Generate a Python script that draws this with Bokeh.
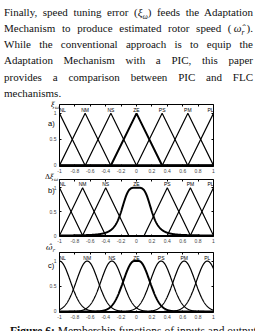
import numpy as np
from bokeh.plotting import figure
from bokeh.layouts import column
from bokeh.models import Range1d, FixedTicker, LinearAxis, Div
from bokeh.embed import file_html
from bokeh.resources import INLINE
from bokeh.core.properties import value

# ---------------- data ----------------
para_lines = [
    "Finally, speed tuning error (<i>ξ</i><sub><i>ω</i></sub>) feeds the Adaptation",
    "Mechanism to produce estimated rotor speed (&thinsp;<i>ω\u0302</i><sub><i>r</i></sub>&thinsp;).",
    "While the conventional approach is to equip the",
    "Adaptation Mechanism with a PIC, this paper",
    "provides a comparison between PIC and FLC",
    "mechanisms.",
]
caption_bold = "Figure 6:"
caption_rest = "Membership functions of inputs and output"

panel_letters = ["a)", "b)", "c)"]
panel_ylabels = ["<i>ξ</i><sub><i>ω</i></sub>", "Δ<i>ξ</i><sub><i>ω</i></sub>",
                 "<i>ω\u0302</i><sub><i>r</i></sub>"]

mf_names = ["NL", "NM", "NS", "ZE", "PS", "PM", "PL"]
x_ticks = [-1, -0.8, -0.6, -0.4, -0.2, 0, 0.2, 0.4, 0.6, 0.8, 1]
x_tick_labels = ["-1", "-0.8", "-0.6", "-0.4", "-0.2", "0", "0.2", "0.4", "0.6", "0.8", "1"]
y_ticks = [0, 0.5, 1]
y_tick_labels = ["0", "0.5", "1"]

# a) error: triangles
a_centers = [-1.0, -0.667, -0.333, 0.0, 0.333, 0.667, 1.0]
a_halfwidth = 0.333
# b) change of error: triangles + bell-shaped ZE
b_centers = [-1.0, -0.7, -0.4, 0.0, 0.4, 0.7, 1.0]
b_halfwidth = 0.3
b_ze_bell = [0.2, 2.0, 0.0]   # width, slope, centre
# c) output: gaussians
c_centers = [-1.0, -0.64, -0.32, 0.0, 0.32, 0.62, 0.92]
c_sigma = 0.14
c_ze_flat = 0.03

# ---------------- paragraph + panel annotations (HTML overlay) ----------------
line_html = []
for i, ln in enumerate(para_lines):
    if i == len(para_lines) - 1:
        line_html.append(f'<div style="text-align:left;height:16.3px;white-space:nowrap;">{ln}</div>')
    else:
        line_html.append(f'<div style="text-align:justify;text-align-last:justify;height:16.3px;">{ln}</div>')

# page positions of the panel letters / y-labels (layout only)
letter_pos = [(48, 118.5), (48, 185.5), (48, 260.5)]
ylab_pos = [(196, 101.0, 7), (197, 172.5, 7), (200, 243.5, 8)]
over = []
for t, (lx, ty) in zip(panel_letters, letter_pos):
    over.append(f'<span style="position:absolute;left:{lx}px;top:{ty}px;z-index:50;'
                f'font-family:\'Liberation Sans\';font-size:7.5px;line-height:9px;'
                f'white-space:nowrap;color:#000;">{t}</span>')
for t, (rx, ty, fs) in zip(panel_ylabels, ylab_pos):
    over.append(f'<span class="yl" style="position:absolute;right:{rx}px;top:{ty}px;z-index:50;'
                f'font-family:\'DejaVu Serif\';font-size:{fs}px;line-height:8px;'
                f'white-space:nowrap;color:#000;">{t}</span>')

para_html = (
    '<style>.pg sub{font-size:7.5px;vertical-align:-2.5px;line-height:0;}'
    '.yl sub{font-size:5px;vertical-align:-1.5px;line-height:0;}</style>'
    '<div style="position:relative;width:255px;height:100px;overflow:visible;">'
    '<div class="pg" style="position:absolute;left:4px;top:3.5px;width:249px;'
    'font-family:\'Liberation Serif\';font-size:11px;line-height:16.3px;color:#111;">'
    + "".join(line_html) + '</div>' + "".join(over) + '</div>')
para = Div(text=para_html, width=255, height=100, margin=(0, 0, 0, 0),
           styles={"overflow": "visible", "z-index": "10"})


# ---------------- membership plots ----------------
def tri_curve(c, h):
    l, r = c - h, c + h
    pts = sorted({-1.0, 1.0} | {v for v in (l, c, r) if -1.0 <= v <= 1.0})
    ys = [max(0.0, min((v - l) / (c - l), (r - v) / (r - c))) for v in pts]
    return pts, ys


XG = np.linspace(-1, 1, 801)


def style_axis(ax, show):
    ax.axis_line_color = None
    ax.major_tick_in = 2
    ax.major_tick_out = 0
    ax.minor_tick_in = 0
    ax.minor_tick_out = 0
    ax.major_tick_line_color = "black"
    ax.major_label_text_font = "Liberation Sans"
    if show:
        ax.major_label_text_font_size = "5px"
        ax.major_label_standoff = 2
    else:
        ax.major_label_text_font_size = "1px"
        ax.major_label_text_alpha = 0
        ax.major_label_standoff = 0


def make_plot(height, top, bottom, curves, centers):
    p = figure(width=255, height=height, x_range=Range1d(-1, 1), y_range=Range1d(-0.02, 1.17),
               output_backend="svg", toolbar_location=None, title=None,
               min_border_left=59, min_border_right=42, min_border_top=top,
               min_border_bottom=bottom, x_axis_type=None, y_axis_type=None)
    p.border_fill_color = None
    p.background_fill_color = "white"
    p.outline_line_color = "black"
    p.outline_line_width = 1
    p.outline_line_alpha = 1
    xt = FixedTicker(ticks=x_ticks)
    yt = FixedTicker(ticks=y_ticks)
    xb = LinearAxis(ticker=xt, major_label_overrides=dict(zip(x_ticks, x_tick_labels)))
    style_axis(xb, True)
    p.add_layout(xb, "below")
    yl = LinearAxis(ticker=yt, major_label_overrides=dict(zip(y_ticks, y_tick_labels)))
    style_axis(yl, True)
    yl.major_label_standoff = 3
    p.add_layout(yl, "left")
    xa = LinearAxis(ticker=xt)
    style_axis(xa, False)
    p.add_layout(xa, "above")
    yr = LinearAxis(ticker=yt)
    style_axis(yr, False)
    p.add_layout(yr, "right")

    for name, (xs, ys) in zip(mf_names, curves):
        p.line(xs, ys, line_color="black", line_width=2.0 if name == "ZE" else 1.2)

    for name, c in zip(mf_names, centers):
        if c <= -1 + 1e-9:
            al = "left"
        elif c >= 1 - 1e-9:
            al = "right"
        else:
            al = "center"
        p.text(x=[c], y=[1.07], text=[name], text_font=value("Liberation Sans"),
               text_font_size="5px", text_align=al, text_baseline="middle", text_color="black")
    return p


curves_a = [tri_curve(c, a_halfwidth) for c in a_centers]

curves_b = []
for n, c in zip(mf_names, b_centers):
    if n == "ZE":
        wb, sb, cb = b_ze_bell
        curves_b.append((XG, 1.0 / (1.0 + np.abs((XG - cb) / wb) ** (2 * sb))))
    else:
        curves_b.append(tri_curve(c, b_halfwidth))

curves_c = []
for n, c in zip(mf_names, c_centers):
    if n == "ZE":
        d = np.maximum(np.abs(XG - c) - c_ze_flat, 0)
    else:
        d = XG - c
    curves_c.append((XG, np.exp(-d ** 2 / (2 * c_sigma ** 2))))

pa = make_plot(75, 4, 9, curves_a, a_centers)
pb = make_plot(70, 4, 6, curves_b, b_centers)
pc = make_plot(77, 7, 10, curves_c, c_centers)

# ---------------- caption ----------------
cap_html = (
    '<div style="position:relative;width:255px;height:9px;overflow:hidden;">'
    '<div style="position:absolute;left:10px;top:-0.5px;white-space:nowrap;'
    'font-family:\'Liberation Serif\';font-size:11.5px;line-height:13px;color:#111;">'
    f'<b>{caption_bold}</b> {caption_rest}</div></div>')
cap = Div(text=cap_html, width=255, height=9, margin=(0, 0, 0, 0))

layout = column(para, pa, pb, pc, cap, spacing=0)
open("out.html", "w").write(file_html(layout, INLINE))
